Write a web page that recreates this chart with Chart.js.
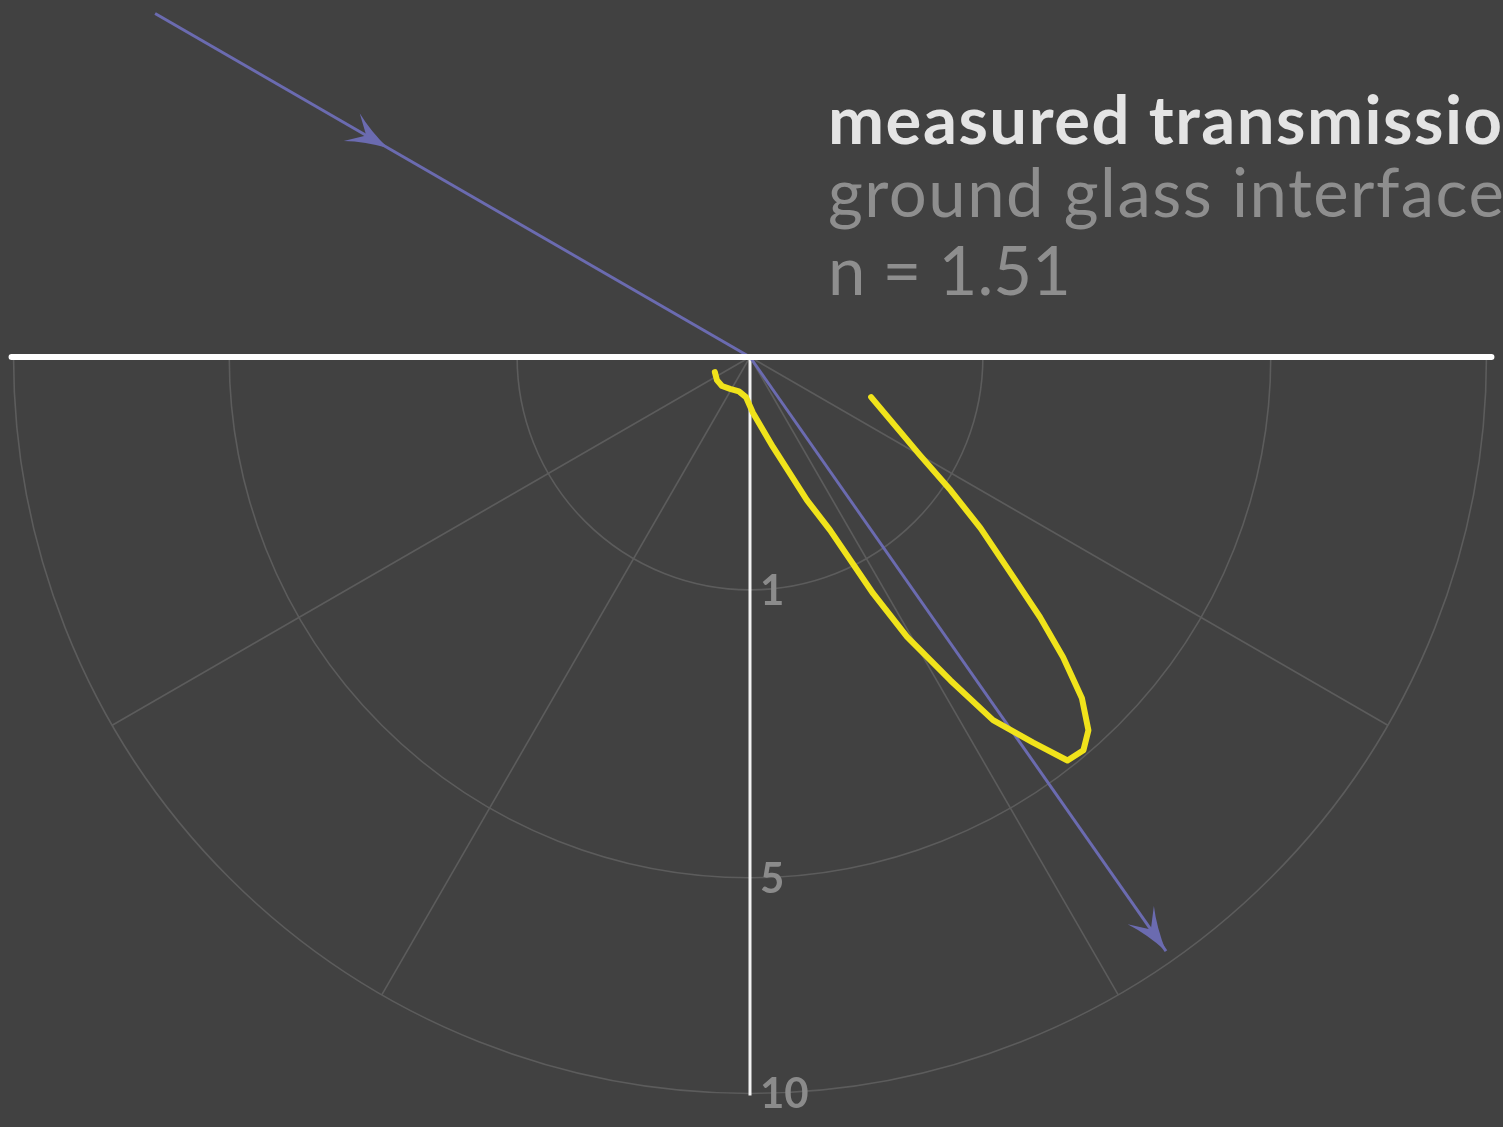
<!DOCTYPE html>
<html>
<head>
<meta charset="utf-8">
<script src="https://cdn.jsdelivr.net/npm/chart.js@4/dist/chart.umd.min.js"></script>
<style>
  html, body { margin: 0; padding: 0; background: #414141; overflow: hidden; }
  #wrap { width: 1503px; height: 1127px; position: relative; }
</style>
</head>
<body>
<div id="wrap"><canvas id="chart"></canvas></div>
<script>
// Transmitted intensity below the interface.
// Angles in degrees from the surface normal (positive = forward side), values on the radial scale.
const transmissionAngles = [-66.8, -55.1, -44.0, -32.0, -17.9, -5.7, 3.1, 14.3, 21.7, 24.8, 27.5, 29.3,
  31.8, 33.8, 36.3, 38.2, 40.3, 42.2, 44.2, 46.2, 48.1, 50.4, 53.4, 56.4, 60.0, 71.7];
const transmissionValues = [0.027, 0.030, 0.030, 0.026, 0.024, 0.030, 0.058, 0.159, 0.437, 0.671, 1.31, 1.90,
  2.67, 3.52, 4.22, 4.86, 4.90, 4.68, 4.18, 3.47, 2.80, 2.10, 1.52, 1.07, 0.71, 0.30];

// Radial grid (square-root scale) and angular spokes
const radialTicks = [1, 5, 10];
const radialTickLabels = ['1', '5', '10'];
const spokeAngles = [-60, -30, 30, 60];

// Incident beam and Snell refraction
const incidenceAngle = 60;
const refractiveIndex = 1.51;
const incidentReach = 8.7;
const incidentArrowAt = 3.22;
const refractedReach = 9.7;

const titleLines = ['measured transmission', 'ground glass interface', 'n = 1.51'];

const refractionAngle = Math.asin(Math.sin(incidenceAngle * Math.PI / 180) / refractiveIndex) * 180 / Math.PI;

// polar (degrees from the downward normal, value) -> cartesian on the sqrt radial scale
function toXY(deg, v) {
  const r = Math.sqrt(v), a = deg * Math.PI / 180;
  return { x: r * Math.sin(a), y: -r * Math.cos(a) };
}

const COLORS = {
  bg: '#414141',
  grid: '#5c5c5c',
  axis: '#f2f2f2',
  tick: '#8b8b8b',
  beam: '#6b6bb0',
  curve: '#f0e31b',
  title: '#e4e4e4',
  subtitle: '#8e8e8e'
};

function pix(chart, p) {
  return { x: chart.scales.x.getPixelForValue(p.x), y: chart.scales.y.getPixelForValue(p.y) };
}

function arrowHead(ctx, tip, from, len, half) {
  const dx0 = tip.x - from.x, dy0 = tip.y - from.y;
  const d = Math.hypot(dx0, dy0);
  const dx = dx0 / d, dy = dy0 / d, nx = -dy, ny = dx;
  ctx.beginPath();
  ctx.moveTo(tip.x, tip.y);
  ctx.quadraticCurveTo(tip.x - dx * len * 0.55 + nx * half * 0.35, tip.y - dy * len * 0.55 + ny * half * 0.35,
    tip.x - dx * len + nx * half, tip.y - dy * len + ny * half);
  ctx.lineTo(tip.x - dx * len * 0.6, tip.y - dy * len * 0.6);
  ctx.lineTo(tip.x - dx * len - nx * half, tip.y - dy * len - ny * half);
  ctx.quadraticCurveTo(tip.x - dx * len * 0.55 - nx * half * 0.35, tip.y - dy * len * 0.55 - ny * half * 0.35,
    tip.x, tip.y);
  ctx.closePath();
  ctx.fill();
}

const polarPlugin = {
  id: 'polarGrid',
  beforeDraw(chart) {
    const ctx = chart.ctx;
    ctx.save();
    ctx.fillStyle = COLORS.bg;
    ctx.fillRect(0, 0, chart.width, chart.height);
    ctx.restore();
  },
  beforeDatasetsDraw(chart) {
    const ctx = chart.ctx;
    const c = pix(chart, { x: 0, y: 0 });
    const rad = v => chart.scales.x.getPixelForValue(Math.sqrt(v)) - c.x;
    const outer = rad(radialTicks[radialTicks.length - 1]);
    ctx.save();
    ctx.strokeStyle = COLORS.grid;
    ctx.lineWidth = 1.6;
    radialTicks.forEach(v => {
      ctx.beginPath();
      ctx.arc(c.x, c.y, rad(v), 0, Math.PI, false);
      ctx.stroke();
    });
    spokeAngles.forEach(a => {
      const e = pix(chart, toXY(a, radialTicks[radialTicks.length - 1]));
      ctx.beginPath();
      ctx.moveTo(c.x, c.y);
      ctx.lineTo(e.x, e.y);
      ctx.stroke();
    });
    // surface normal
    ctx.strokeStyle = COLORS.axis;
    ctx.lineWidth = 3;
    ctx.beginPath();
    ctx.moveTo(c.x, c.y);
    ctx.lineTo(c.x, c.y + outer + 2);
    ctx.stroke();
    // radial tick labels
    ctx.fillStyle = COLORS.tick;
    ctx.font = 'bold 42px Lato';
    ctx.textAlign = 'left';
    ctx.textBaseline = 'alphabetic';
    radialTicks.forEach((v, i) => {
      ctx.fillText(radialTickLabels[i], c.x + 10, c.y + rad(v) + 15);
    });
    ctx.restore();
  },
  afterDatasetsDraw(chart) {
    const ctx = chart.ctx;
    const c = pix(chart, { x: 0, y: 0 });
    const outer = chart.scales.x.getPixelForValue(Math.sqrt(radialTicks[radialTicks.length - 1])) - c.x;
    ctx.save();
    // beam arrowheads
    ctx.fillStyle = COLORS.beam;
    const inTip = pix(chart, toXY(incidenceAngle - 180, incidentArrowAt));
    const inFrom = pix(chart, toXY(incidenceAngle - 180, incidentReach));
    arrowHead(ctx, inTip, inFrom, 42, 16);
    const outTip = pix(chart, toXY(refractionAngle, refractedReach));
    arrowHead(ctx, outTip, c, 44, 16);
    // interface
    ctx.strokeStyle = '#ffffff';
    ctx.lineWidth = 6;
    ctx.lineCap = 'round';
    ctx.beginPath();
    ctx.moveTo(c.x - outer - 2, c.y);
    ctx.lineTo(c.x + outer + 5, c.y);
    ctx.stroke();
    ctx.restore();
  },
  afterDraw(chart) {
    const ctx = chart.ctx;
    ctx.save();
    ctx.textAlign = 'left';
    ctx.textBaseline = 'alphabetic';
    ctx.fillStyle = COLORS.title;
    ctx.font = 'bold 67px Lato';
    ctx.letterSpacing = '1.5px';
    ctx.fillText(titleLines[0], 828, 144);
    ctx.fillStyle = COLORS.subtitle;
    ctx.font = '67px Lato';
    ctx.letterSpacing = '1.5px';
    ctx.fillText(titleLines[1], 828, 217);
    ctx.letterSpacing = '0px';
    ctx.fillText(titleLines[2], 828, 295);
    ctx.restore();
  }
};

const curveData = transmissionAngles.map((a, i) => toXY(a, transmissionValues[i]));
const incidentData = [toXY(incidenceAngle - 180, incidentReach), { x: 0, y: 0 }];
const refractedData = [{ x: 0, y: 0 }, toXY(refractionAngle, refractedReach)];

new Chart(document.getElementById('chart'), {
  type: 'scatter',
  data: {
    datasets: [
      {
        label: 'measured transmission',
        data: curveData,
        showLine: true,
        borderColor: COLORS.curve,
        borderWidth: 6,
        borderCapStyle: 'round',
        borderJoinStyle: 'round',
        pointRadius: 0,
        tension: 0,
        order: 0
      },
      {
        label: 'incident',
        data: incidentData,
        showLine: true,
        borderColor: COLORS.beam,
        borderWidth: 3,
        pointRadius: 0,
        order: 1
      },
      {
        label: 'refracted',
        data: refractedData,
        showLine: true,
        borderColor: COLORS.beam,
        borderWidth: 3,
        pointRadius: 0,
        order: 2
      }
    ]
  },
  options: {
    responsive: true,
    maintainAspectRatio: false,
    animation: false,
    events: [],
    layout: { padding: 0 },
    plugins: { legend: { display: false }, tooltip: { enabled: false }, title: { display: false } },
    scales: {
      x: { type: 'linear', display: false, min: -3.2204, max: 3.2333 },
      y: { type: 'linear', display: false, min: -3.3062, max: 1.5329 }
    }
  },
  plugins: [polarPlugin]
});
</script>
</body>
</html>
